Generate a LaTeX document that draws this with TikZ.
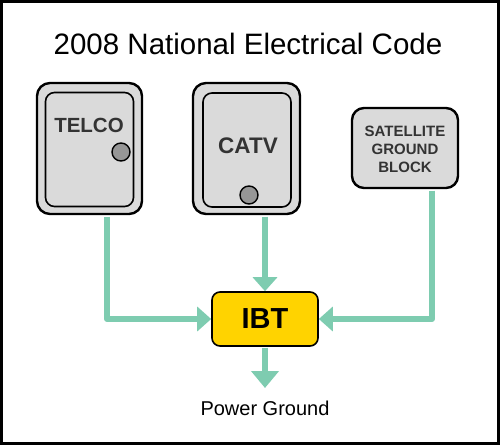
\documentclass[tikz,border=0pt]{standalone}
\usepackage{fontspec}
\setmainfont{Liberation Sans}
\usetikzlibrary{arrows.meta}
\definecolor{wirec}{RGB}{126,204,176}
\definecolor{boxfill}{RGB}{218,218,218}
\definecolor{labelc}{RGB}{51,51,51}
\definecolor{ibtfill}{RGB}{255,211,0}
\definecolor{knobfill}{RGB}{150,150,150}
\tikzset{
  outerbox/.style={draw=black, line width=2.4pt, fill=boxfill, rounded corners=13pt, inner sep=0pt},
  innerbox/.style={draw=black, line width=1.6pt, rounded corners=9pt, inner sep=0pt},
  lbl/.style={font=\bfseries, text=labelc, inner sep=0pt},
  knob/.style={circle, draw=black, line width=1.4pt, fill=knobfill, minimum size=18pt, inner sep=0pt},
  wire/.style={draw=wirec, line width=6pt, line join=round},
  sidetip/.style={-{Triangle[width=24pt,length=14pt]}, shorten <=1.3pt},
  downtip/.style={-{Triangle[width=27pt,length=17pt]}, shorten <=0.9pt},
}
\begin{document}
\begin{tikzpicture}[x=1pt,y=-1pt]
\useasboundingbox (0,0) rectangle (500,445);
\draw[line width=3pt] (1.5,1.5) rectangle (498.5,443.5);
% title
\node[inner sep=0pt, font=\fontsize{29.5}{34}\selectfont] (title) at (248,44) {2008 National Electrical Code};
% TELCO
\node[outerbox, minimum width=105pt, minimum height=131pt] (telco) at (89.5,148.5) {};
\node[innerbox, minimum width=88pt, minimum height=114pt] (telcoin) at (89.5,149.5) {};
\node[lbl, font=\bfseries\fontsize{20.5}{24}\selectfont] (telcolbl) at (89,125) {TELCO};
\node[knob] (telcoknob) at (121,152) {};
% CATV
\node[outerbox, minimum width=107pt, minimum height=131pt] (catv) at (246.5,148.5) {};
\node[innerbox, minimum width=88pt, minimum height=114pt] (catvin) at (247,150) {};
\node[lbl, font=\bfseries\fontsize{22.5}{26}\selectfont] (catvlbl) at (248,146) {CATV};
\node[knob] (catvknob) at (249,195) {};
% Satellite
\node[outerbox, rounded corners=12pt, minimum width=106pt, minimum height=80pt] (sat) at (405,148) {};
\node[lbl, font=\bfseries\fontsize{15}{18}\selectfont, align=center] (satlbl) at (405,149) {SATELLITE\\GROUND\\BLOCK};
% IBT
\node[draw=black, line width=1.6pt, fill=ibtfill, rounded corners=8pt, minimum width=106pt, minimum height=54pt, inner sep=0pt, font=\bfseries\fontsize{29}{33}\selectfont] (ibt) at (265,319) {IBT};
% ground
\coordinate (gtip) at (265,388);
\node[inner sep=0pt, font=\fontsize{20}{24}\selectfont] (gnd) at (265,408) {Power Ground};
% wires
\draw[wire, sidetip] ([xshift=17.5pt]telco.south) |- (ibt.west);
\draw[wire, sidetip] (catv.south -| ibt.north) -- (ibt.north);
\draw[wire, sidetip] ([xshift=27pt]sat.south) |- (ibt.east);
\draw[wire, downtip] (ibt.south) -- (gtip);
\end{tikzpicture}
\end{document}
